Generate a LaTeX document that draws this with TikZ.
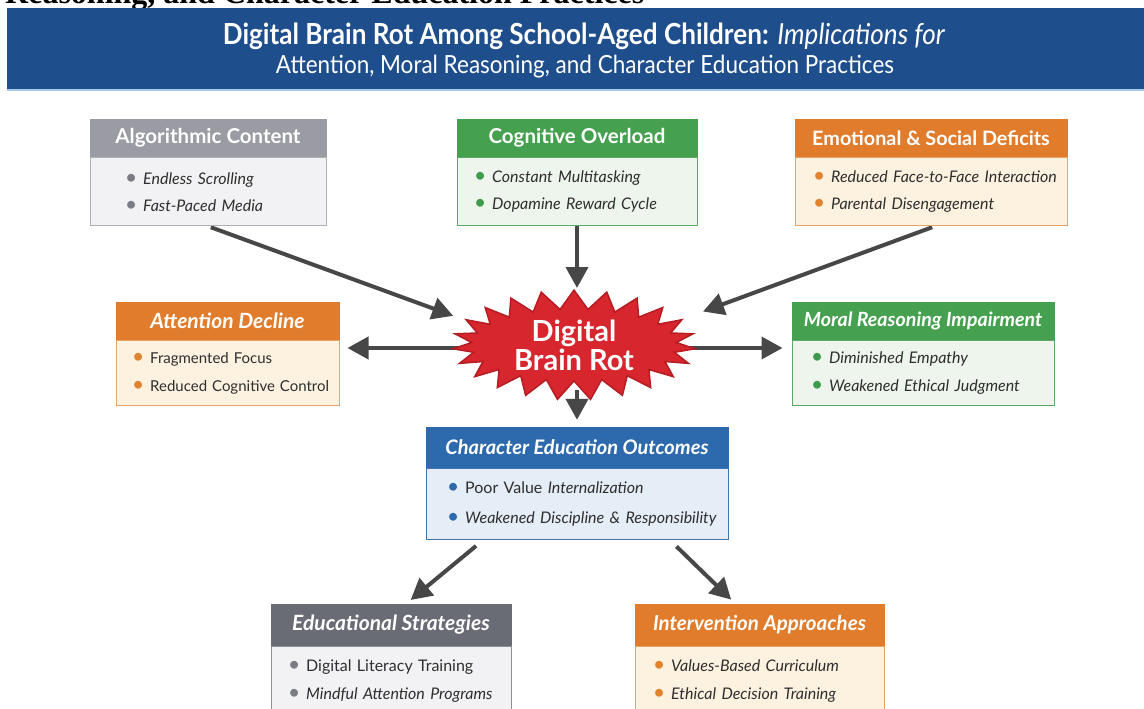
\documentclass[tikz,border=0pt]{standalone}
\usepackage{fontspec}
\setmainfont{Lato}
\newfontfamily\titlefont[FakeStretch=0.9]{Lato}
\newfontfamily\capfont{Liberation Serif}
\usetikzlibrary{arrows.meta,positioning,shapes.symbols,backgrounds}

\definecolor{bannerblue}{HTML}{1F4E8D}
\definecolor{bannerline}{HTML}{A9CBEA}
\definecolor{grayhead}{HTML}{9A9BA3}
\definecolor{graybody}{HTML}{F2F2F4}
\definecolor{grayline}{HTML}{B0B1B7}
\definecolor{graydot}{HTML}{7B7C84}
\definecolor{greenhead}{HTML}{45A04F}
\definecolor{greenbody}{HTML}{EEF5EC}
\definecolor{greenline}{HTML}{5DA865}
\definecolor{greendot}{HTML}{3E9A4C}
\definecolor{orangehead}{HTML}{E07C2C}
\definecolor{orangebody}{HTML}{FDF1E0}
\definecolor{orangeline}{HTML}{E4A465}
\definecolor{orangedot}{HTML}{E0832F}
\definecolor{bluehead}{HTML}{2D6AAD}
\definecolor{bluebody}{HTML}{E5EDF7}
\definecolor{blueline}{HTML}{3B73B3}
\definecolor{darkhead}{HTML}{6A6C75}
\definecolor{darkline}{HTML}{8E9097}
\definecolor{burstred}{HTML}{D7262D}
\definecolor{burstedge}{HTML}{B51D23}
\definecolor{arrowgray}{HTML}{474747}
\definecolor{ink}{HTML}{2E2E2E}

% one list line with a coloured bullet, never broken
\newcommand{\bul}[2]{\mbox{\textcolor{#1}{\fontsize{21}{21}\selectfont\textbullet}\hspace{6pt}#2}}

\begin{document}
\begin{tikzpicture}[x=1pt, y=-1pt,
    head/.style={fill=#1, draw=#1, text=white, inner sep=0pt, minimum height=38pt,
                 font=\bfseries\fontsize{20.5}{22}\selectfont},
    body/.style 2 args={fill=#1, draw=#2, line width=1pt, text=ink, align=left,
                 inner ysep=0pt, minimum height=68pt,
                 font=\itshape\fontsize{16}{27}\selectfont},
    arr/.style={draw=arrowgray, line width=4pt, -{Triangle[length=21pt,width=22pt]}},
    burst/.style={starburst, starburst points=23, starburst point height=19pt,
                 random starburst=0, fill=burstred, draw=burstedge, line width=1.5pt,
                 minimum width=243pt, minimum height=105pt, inner sep=0pt,
                 text=white, align=center, font=\bfseries\fontsize{29}{29}\selectfont}]
  \clip (0,0) rectangle (1144,709);

  % caption line cut at the top edge
  \node[anchor=base west, inner sep=0pt, font=\capfont\bfseries\fontsize{32}{32}\selectfont]
    (cap) at (5,4) {Reasoning, and Character Education Practices};

  % title banner
  \fill[bannerblue] (7,8) rectangle (1144,89);
  \fill[bannerline] (7,89) rectangle (1144,91);
  \node[anchor=base, text=white, inner sep=0pt, font=\titlefont\fontsize{29}{29}\selectfont]
    (title1) at (584,45) {\textbf{Digital Brain Rot Among School-Aged Children:} \textit{Implications for}};
  \node[anchor=base, text=white, inner sep=0pt, font=\titlefont\fontsize{25}{25}\selectfont]
    (title2) at (585,74) {Attention, Moral Reasoning, and Character Education Practices};

  % causes
  \node[head=grayhead, minimum width=236pt] (algh) at (208,138) {Algorithmic Content};
  \node[body={graybody}{grayline}, inner xsep=35pt, text width=166pt, below=0pt of algh] (algb)
    {\bul{graydot}{Endless Scrolling}\\\bul{graydot}{Fast-Paced Media}};

  \node[head=greenhead, minimum width=240pt] (cogh) at (577,138) {Cognitive Overload};
  \node[body={greenbody}{greenline}, inner xsep=17pt, text width=206pt, below=0pt of cogh] (cogb)
    {\bul{greendot}{Constant Multitasking}\\\bul{greendot}{Dopamine Reward Cycle}};

  \node[head=orangehead, minimum width=272pt, font=\bfseries\fontsize{19.8}{22}\selectfont]
    (emoh) at (931,138) {Emotional \& Social Deficits};
  \node[body={orangebody}{orangeline}, inner xsep=18pt, text width=236pt, below=0pt of emoh] (emob)
    {\bul{orangedot}{Reduced Face-to-Face Interaction}\\\bul{orangedot}{Parental Disengagement}};

  % centre
  \node[burst] (burst) at (574,345) {Digital\\Brain Rot};

  % effects
  \node[head=orangehead, minimum width=223pt, font=\bfseries\itshape\fontsize{21}{22}\selectfont]
    (atth) at (227.5,321) {Attention Decline};
  \node[body={orangebody}{orangeline}, inner xsep=16pt, text width=191pt, minimum height=65pt,
        font=\upshape\fontsize{15}{28}\selectfont, below=0pt of atth] (attb)
    {\bul{orangedot}{Fragmented Focus}\\\bul{orangedot}{Reduced Cognitive Control}};

  \node[head=greenhead, minimum width=262pt, font=\bfseries\itshape\fontsize{19.6}{22}\selectfont]
    (morh) at (923,321) {Moral Reasoning Impairment};
  \node[body={greenbody}{greenline}, inner xsep=19pt, text width=224pt, minimum height=65pt,
        font=\itshape\fontsize{16}{28}\selectfont, below=0pt of morh] (morb)
    {\bul{greendot}{Diminished Empathy}\\\bul{greendot}{Weakened Ethical Judgment}};

  \node[head=bluehead, minimum width=302pt, minimum height=41pt,
        font=\bfseries\itshape\fontsize{20}{22}\selectfont] (chrh) at (577,447.5) {Character Education Outcomes};
  \node[body={bluebody}{blueline}, inner xsep=21pt, text width=260pt, minimum height=71pt,
        font=\itshape\fontsize{16}{30}\selectfont, below=0pt of chrh] (chrb)
    {\bul{bluehead}{{\upshape Poor Value} Internalization}\\\bul{bluehead}{Weakened Discipline \& Responsibility}};

  % responses
  \node[head=darkhead, minimum width=240pt, minimum height=42pt,
        font=\bfseries\itshape\fontsize{21}{22}\selectfont] (eduh) at (391,625) {Educational Strategies};
  \node[body={graybody}{darkline}, inner xsep=17pt, text width=206pt, font=\itshape\fontsize{16}{28}\selectfont,
        below=0pt of eduh] (edub)
    {\bul{graydot}{\upshape Digital Literacy Training}\\\bul{graydot}{Mindful Attention Programs}};

  \node[head=orangehead, minimum width=249pt, minimum height=42pt,
        font=\bfseries\itshape\fontsize{20.5}{22}\selectfont] (invh) at (759.5,625) {Intervention Approaches};
  \node[body={orangebody}{orangeline}, inner xsep=18pt, text width=213pt, font=\itshape\fontsize{16}{28}\selectfont,
        below=0pt of invh] (invb)
    {\bul{orangedot}{Values-Based Curriculum}\\\bul{orangedot}{Ethical Decision Training}};

  % arrows, kept behind the burst
  \begin{scope}[on background layer]
    \fill[white] (0,0) rectangle (1144,709);
    \draw[arr, shorten <=3pt, shorten >=85pt] (algb.south) -- ([xshift=-41pt]burst.center);
    \draw[arr, shorten >=57pt] (cogb.south) -- (burst.center -| cogb.south);
    \draw[arr, shorten <=3pt, shorten >=97pt] ([xshift=4pt]emob.south) -- ([xshift=38pt]burst.center);
    \draw[arr, shorten <=100pt, shorten >=8pt] ([yshift=-3pt]burst.center) -- ([yshift=-3pt]attb.east |- burst.center);
    \draw[arr, shorten <=100pt, shorten >=9pt] ([yshift=-3pt]burst.center) -- ([yshift=-3pt]morb.west |- burst.center);
    \draw[arr, shorten <=45pt, shorten >=7pt] (burst.center -| chrh.north) -- (chrh.north);
    \draw[arr, shorten <=9pt, shorten >=6pt] ([xshift=-94pt]chrb.south) -- ([xshift=15pt]eduh.north);
    \draw[arr, shorten <=9pt, shorten >=6pt] ([xshift=93pt]chrb.south) -- ([xshift=-24pt]invh.north);
  \end{scope}
\end{tikzpicture}
\end{document}
